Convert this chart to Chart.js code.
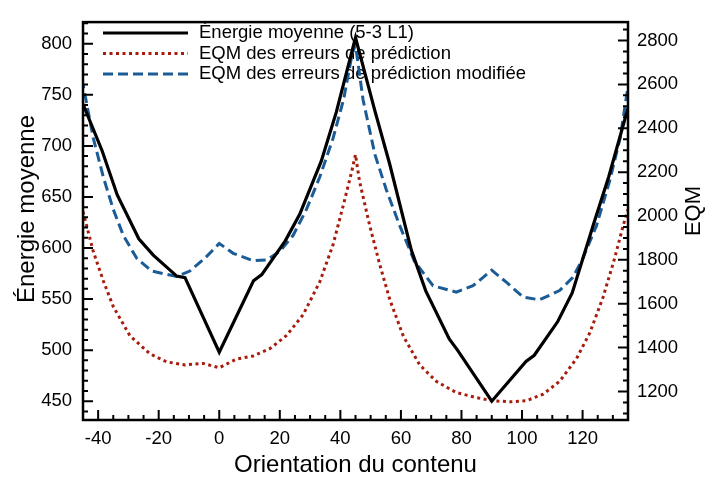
<!DOCTYPE html>
<html><head><meta charset="utf-8">
<script src="https://cdn.jsdelivr.net/npm/chart.js@4"></script>
<style>html,body{margin:0;padding:0;background:#fff}canvas{display:block}</style>
</head><body>
<canvas id="c" width="713" height="480"></canvas>
<script>
// ---- data ----
const energyAngles = [-45, -38.66, -33.69, -26.57, -21.8, -14.04, -11.31, 0, 11.31, 14.04, 21.8, 26.57, 33.69, 38.66, 45, 51.34, 56.31, 63.43, 68.2, 75.96, 78.69, 90, 101.31, 104.04, 111.8, 116.57, 123.69, 128.66, 135];
const energyValues = [741, 695, 652, 609, 593, 572.5, 571, 498, 568, 574, 607, 633, 685, 733, 806, 735, 682, 598, 558, 511, 500, 450, 489, 495, 528, 556, 624, 670, 737];

const eqmAngles = [-45, -41.6, -38.3, -35, -29.5, -22.9, -17.4, -11.3, -5.3, 0, 5.7, 11.2, 16.7, 22.2, 27.7, 33.2, 37.6, 40.9, 43.7, 45, 46.3, 49.7, 53, 56.4, 60.8, 66.2, 71.7, 78.3, 85, 90, 96, 101.5, 107, 112.4, 118, 122.4, 126.8, 130.6, 133.4, 135];
const eqmValues = [2020, 1838, 1705, 1587, 1454, 1372, 1335, 1321, 1328, 1308, 1348, 1362, 1395, 1455, 1550, 1700, 1870, 2045, 2200, 2280, 2160, 1956, 1779, 1616, 1452, 1321, 1246, 1195, 1172, 1158, 1153, 1158, 1188, 1246, 1350, 1468, 1631, 1808, 1956, 2030];

const eqmModAngles = [-45, -41.6, -38.3, -35, -31.7, -27.3, -22.3, -17.4, -14.1, -9.7, -4.7, 0, 4.6, 11.2, 15.6, 20, 24.4, 28.8, 33.2, 37.6, 41.1, 43.9, 45, 47.5, 51.4, 55.2, 59.6, 64.5, 70.6, 78.3, 83.8, 90, 94.9, 100.4, 105.8, 112.4, 116.8, 120.1, 124.6, 129, 132.4, 135];
const eqmModValues = [2600, 2355, 2178, 2030, 1912, 1808, 1749, 1734, 1724, 1749, 1808, 1875, 1830, 1796, 1800, 1838, 1912, 2030, 2178, 2355, 2533, 2740, 2780, 2530, 2281, 2119, 1956, 1793, 1682, 1653, 1682, 1753, 1697, 1630, 1618, 1660, 1720, 1808, 1956, 2163, 2355, 2590];

const xTickValues = [-40, -20, 0, 20, 40, 60, 80, 100, 120];
const leftTickValues = [450, 500, 550, 600, 650, 700, 750, 800];
const rightTickValues = [1200, 1400, 1600, 1800, 2000, 2200, 2400, 2600, 2800];

const seriesLabels = ['Énergie moyenne (5-3 L1)', 'EQM des erreurs de prédiction', 'EQM des erreurs de prédiction modifiée'];
const xTitle = 'Orientation du contenu';
const leftTitle = 'Énergie moyenne';
const rightTitle = 'EQM';

// ---- styling ----
const FONT = '"Liberation Sans", Arial, Helvetica, sans-serif';
const pairs = (xs, ys) => xs.map((x, i) => ({x: x, y: ys[i]}));

const decor = {
  id: 'decor',
  beforeDatasetsDraw(chart) {
    const ctx = chart.ctx;
    const ds = chart.data.datasets;
    const rowsY = [33, 53.5, 74];
    ctx.save();
    ds.forEach((d, i) => {
      const y = rowsY[i];
      ctx.beginPath();
      ctx.setLineDash(d.borderDash || []);
      ctx.lineDashOffset = 0;
      ctx.lineWidth = d.borderWidth;
      ctx.strokeStyle = d.borderColor;
      ctx.lineCap = 'butt';
      ctx.moveTo(103, y);
      ctx.lineTo(188, y);
      ctx.stroke();
      ctx.setLineDash([]);
      ctx.fillStyle = '#000';
      ctx.font = '18.5px ' + FONT;
      ctx.textAlign = 'left';
      ctx.textBaseline = 'middle';
      ctx.fillText(d.label, 199, y);
    });
    ctx.restore();
  },
  afterDatasetsDraw(chart) {
    const ctx = chart.ctx;
    const a = chart.chartArea;
    const xs = chart.scales.x, yl = chart.scales.y, yr = chart.scales.y2;
    ctx.save();
    ctx.strokeStyle = '#000';
    ctx.setLineDash([]);
    // ticks (pointing into the plot)
    ctx.lineWidth = 2;
    ctx.beginPath();
    for (let v = -45; v <= 135; v += 5) {
      const p = xs.getPixelForValue(v);
      if (p <= a.left + 1 || p >= a.right - 1) continue;
      const len = (v % 20 === 0) ? 10 : 5;
      ctx.moveTo(p, a.bottom); ctx.lineTo(p, a.bottom - len);
    }
    for (let v = 440; v <= 820; v += 10) {
      const p = yl.getPixelForValue(v);
      if (p <= a.top + 1 || p >= a.bottom - 1) continue;
      const len = (v % 50 === 0) ? 10 : 5;
      ctx.moveTo(a.left, p); ctx.lineTo(a.left + len, p);
    }
    for (let v = 1100; v <= 2850; v += 50) {
      const p = yr.getPixelForValue(v);
      if (p <= a.top + 1 || p >= a.bottom - 1) continue;
      const len = (v % 200 === 0) ? 10 : 5;
      ctx.moveTo(a.right, p); ctx.lineTo(a.right - len, p);
    }
    ctx.stroke();
    // frame
    ctx.lineWidth = 2.5;
    ctx.strokeRect(a.left, a.top, a.right - a.left, a.bottom - a.top);
    ctx.fillStyle = '#000';
    ctx.textAlign = 'center';
    ctx.textBaseline = 'middle';
    // left title (reads bottom to top)
    ctx.save();
    ctx.translate(27, 209);
    ctx.rotate(-Math.PI / 2);
    ctx.font = '24px ' + FONT;
    ctx.fillText(leftTitle, 0, 0);
    ctx.restore();
    // right title (reads bottom to top)
    ctx.translate(693.5, 211);
    ctx.rotate(-Math.PI / 2);
    ctx.font = '22px ' + FONT;
    ctx.fillText(rightTitle, 0, 0);
    ctx.restore();
  }
};

const tickFont = {family: FONT, size: 18.5};
const titleFont = {family: FONT, size: 24};

new Chart(document.getElementById('c'), {
  type: 'line',
  data: {
    datasets: [
      {label: seriesLabels[0], data: pairs(energyAngles, energyValues), yAxisID: 'y',
       borderColor: '#000000', borderWidth: 3.2, pointRadius: 0, tension: 0, fill: false},
      {label: seriesLabels[1], data: pairs(eqmAngles, eqmValues), yAxisID: 'y2',
       borderColor: '#a81c0c', borderWidth: 3, borderDash: [3, 3.5], pointRadius: 0, tension: 0, fill: false},
      {label: seriesLabels[2], data: pairs(eqmModAngles, eqmModValues), yAxisID: 'y2',
       borderColor: '#1b5c97', borderWidth: 3, borderDash: [10, 5], borderDashOffset: 6, pointRadius: 0, tension: 0, fill: false}
    ]
  },
  options: {
    responsive: false,
    devicePixelRatio: 1,
    animation: false,
    layout: {padding: {top: 11, left: 0, right: 0, bottom: 0}},
    plugins: {legend: {display: false}, tooltip: {enabled: false}},
    scales: {
      x: {
        type: 'linear', position: 'bottom', min: -45, max: 135,
        afterBuildTicks: s => { s.ticks = xTickValues.map(v => ({value: v})); },
        ticks: {font: tickFont, color: '#000', padding: 8, maxRotation: 0, autoSkip: false, callback: v => String(v)},
        grid: {display: false, drawTicks: false},
        border: {display: false},
        title: {display: true, text: xTitle, font: titleFont, color: '#000', padding: {top: 0, bottom: 0}},
        afterFit: s => { s.height = 60; }
      },
      y: {
        type: 'linear', position: 'left', min: 431.6, max: 821.2,
        afterBuildTicks: s => { s.ticks = leftTickValues.map(v => ({value: v})); },
        ticks: {font: tickFont, color: '#000', padding: 11, autoSkip: false, callback: v => String(v)},
        grid: {display: false, drawTicks: false},
        border: {display: false},
        title: {display: false, text: leftTitle},
        afterFit: s => { s.width = 83; }
      },
      y2: {
        type: 'linear', position: 'right', min: 1070, max: 2884,
        afterBuildTicks: s => { s.ticks = rightTickValues.map(v => ({value: v})); },
        ticks: {font: tickFont, color: '#000', padding: 9, autoSkip: false, callback: v => String(v)},
        grid: {display: false, drawTicks: false},
        border: {display: false},
        title: {display: false, text: rightTitle},
        afterFit: s => { s.width = 85; }
      }
    }
  },
  plugins: [decor]
});
</script>
</body></html>
